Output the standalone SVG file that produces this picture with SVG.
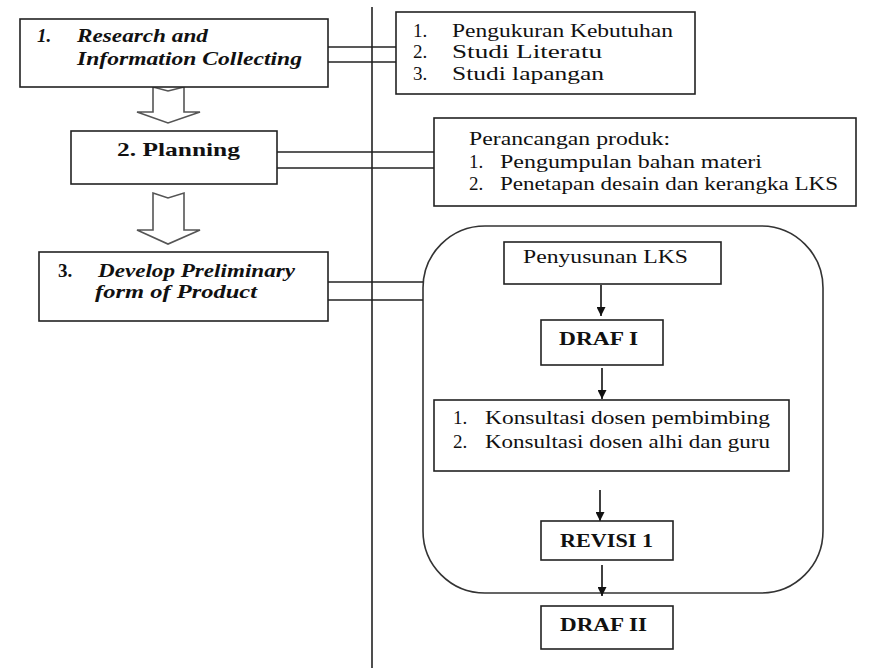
<svg xmlns="http://www.w3.org/2000/svg" width="871" height="668" viewBox="0 0 871 668">
<style>
.box{fill:#fff;stroke:#222;stroke-width:1.6}
.grp{fill:none;stroke:#333;stroke-width:1.6}
.ln{fill:none;stroke:#222;stroke-width:1.6}
.harrow{fill:#fff;stroke:#555;stroke-width:1.6;stroke-linejoin:miter}
.arr{fill:none;stroke:#111;stroke-width:1.6}
.t{font-family:'Liberation Serif','Times New Roman','DejaVu Serif',serif;font-size:19px;fill:#111}
.b{font-weight:bold}
.bi{font-weight:bold;font-style:italic}
</style>
<defs>
<marker id="ah" viewBox="0 0 10 10" refX="10" refY="5" markerWidth="9" markerHeight="9" markerUnits="userSpaceOnUse" orient="auto">
<path d="M0,0 L10,5 L0,10 Z" fill="#111"/>
</marker>
</defs>
<rect width="871" height="668" fill="#fff"/>

<g id="node-group">
<rect class="grp" x="423" y="226" width="400" height="367" rx="62" ry="62"/>
</g>

<g id="connectors">
<line class="ln" x1="372" y1="7" x2="372" y2="668"/>
<line class="ln" x1="328" y1="47" x2="396" y2="47"/>
<line class="ln" x1="328" y1="62" x2="396" y2="62"/>
<line class="ln" x1="277" y1="152" x2="434" y2="152"/>
<line class="ln" x1="277" y1="168" x2="434" y2="168"/>
<line class="ln" x1="328" y1="282" x2="423" y2="282"/>
<line class="ln" x1="328" y1="300" x2="423" y2="300"/>
<path class="harrow" d="M153,87 L168,91 L184,87 L184,112 L200,112 L168,123 L137,112 L153,112 Z"/>
<path class="harrow" d="M153,193 L168,198 L184,193 L184,230 L200,230 L168,244 L137,230 L153,230 Z"/>
<line class="arr" x1="601" y1="285" x2="601" y2="316" marker-end="url(#ah)"/>
<line class="arr" x1="602" y1="368" x2="602" y2="399" marker-end="url(#ah)"/>
<line class="arr" x1="600" y1="490" x2="600" y2="521" marker-end="url(#ah)"/>
<line class="arr" x1="602" y1="565" x2="602" y2="596" marker-end="url(#ah)"/>
</g>

<g id="node-research">
<rect class="box" x="20" y="19" width="308" height="68"/>
<text class="t bi" x="37" y="42">1.</text>
<text class="t bi" x="77" y="42" textLength="131" lengthAdjust="spacingAndGlyphs">Research and</text>
<text class="t bi" x="77" y="65" textLength="225" lengthAdjust="spacingAndGlyphs">Information Collecting</text>
</g>

<g id="node-list1">
<rect class="box" x="396" y="12" width="299" height="82"/>
<text class="t" x="413" y="37">1.</text>
<text class="t" x="452" y="37" textLength="221" lengthAdjust="spacingAndGlyphs">Pengukuran Kebutuhan</text>
<text class="t" x="413" y="58">2.</text>
<text class="t" x="452" y="58" textLength="150" lengthAdjust="spacingAndGlyphs">Studi Literatu</text>
<text class="t" x="413" y="80">3.</text>
<text class="t" x="452" y="80" textLength="152" lengthAdjust="spacingAndGlyphs">Studi lapangan</text>
</g>

<g id="node-planning">
<rect class="box" x="71" y="131" width="206" height="53"/>
<text class="t b" x="117" y="156" textLength="123" lengthAdjust="spacingAndGlyphs">2.  Planning</text>
</g>

<g id="node-list2">
<rect class="box" x="434" y="118" width="422" height="88"/>
<text class="t" x="469" y="145" textLength="201" lengthAdjust="spacingAndGlyphs">Perancangan produk:</text>
<text class="t" x="469" y="168">1.</text>
<text class="t" x="500" y="168" textLength="262" lengthAdjust="spacingAndGlyphs">Pengumpulan bahan materi</text>
<text class="t" x="469" y="190">2.</text>
<text class="t" x="500" y="190" textLength="338" lengthAdjust="spacingAndGlyphs">Penetapan desain dan kerangka LKS</text>
</g>

<g id="node-develop">
<rect class="box" x="39" y="252" width="289" height="69"/>
<text class="t b" x="58" y="277">3.</text>
<text class="t bi" x="98" y="277" textLength="197" lengthAdjust="spacingAndGlyphs">Develop Preliminary</text>
<text class="t bi" x="95" y="298" textLength="162" lengthAdjust="spacingAndGlyphs">form of Product</text>
</g>

<g id="node-penyusunan">
<rect class="box" x="504" y="242" width="217" height="42"/>
<text class="t" x="523" y="263" textLength="165" lengthAdjust="spacingAndGlyphs">Penyusunan LKS</text>
</g>

<g id="node-draf1">
<rect class="box" x="541" y="320" width="122" height="45"/>
<text class="t b" x="559" y="345" textLength="79" lengthAdjust="spacingAndGlyphs">DRAF I</text>
</g>

<g id="node-konsultasi">
<rect class="box" x="434" y="400" width="355" height="71"/>
<text class="t" x="453" y="424">1.</text>
<text class="t" x="485" y="424" textLength="285" lengthAdjust="spacingAndGlyphs">Konsultasi dosen pembimbing</text>
<text class="t" x="453" y="448">2.</text>
<text class="t" x="485" y="448" textLength="285" lengthAdjust="spacingAndGlyphs">Konsultasi dosen alhi dan guru</text>
</g>

<g id="node-revisi">
<rect class="box" x="541" y="521" width="132" height="39"/>
<text class="t b" x="560" y="547" textLength="93" lengthAdjust="spacingAndGlyphs">REVISI 1</text>
</g>

<g id="node-draf2">
<rect class="box" x="541" y="606" width="132" height="43"/>
<text class="t b" x="560" y="631" textLength="87" lengthAdjust="spacingAndGlyphs">DRAF II</text>
</g>
</svg>
